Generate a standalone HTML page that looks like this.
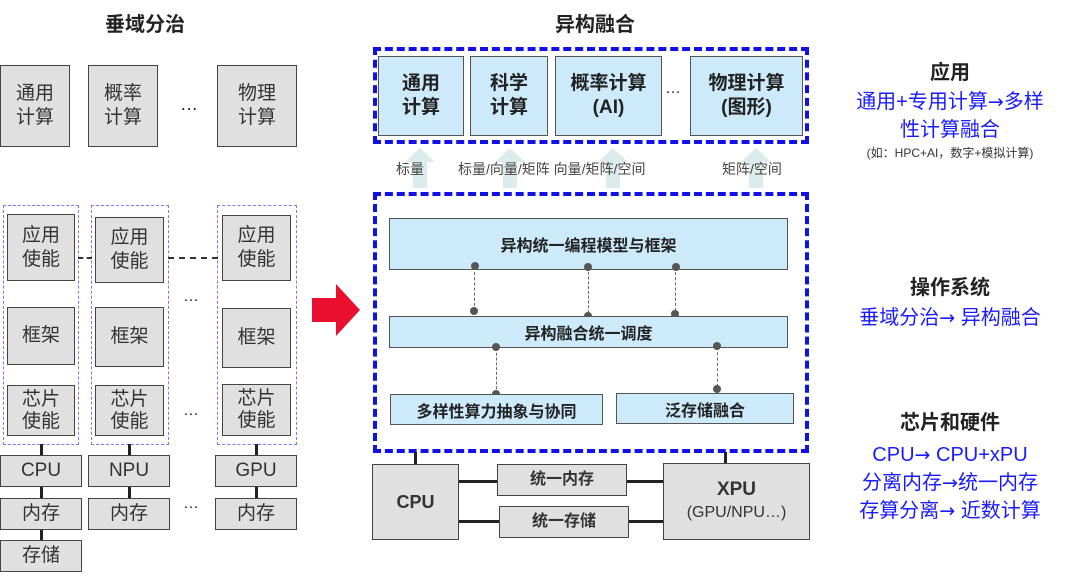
<!DOCTYPE html>
<html><head><meta charset="utf-8">
<style>
body{margin:0;width:1080px;height:581px;background:#fff;position:relative;overflow:hidden;font-family:"Liberation Sans","Noto Sans CJK SC",sans-serif;color:#222}
.a{position:absolute}
.g{position:absolute;background:#e0e0e0;border:1.5px solid #444;box-sizing:border-box;display:flex;align-items:center;justify-content:center;text-align:center;font-size:19px;line-height:24px;color:#333}
.b{position:absolute;background:#cdeafb;border:1.5px solid #555;box-sizing:border-box;display:flex;align-items:center;justify-content:center;text-align:center;font-weight:bold;color:#222}
.dg{position:absolute;border:1.5px dashed #7777ff;box-sizing:border-box}
.db{position:absolute;border:4px dashed #1010e8;box-sizing:border-box}
.t{position:absolute;text-align:center;white-space:nowrap}
.vl{position:absolute;width:3px;background:#222}
.hl{position:absolute;height:3px;background:#222}
.dv{position:absolute;border-left:1.5px dashed #666;width:0}
.dot{position:absolute;width:8px;height:8px;border-radius:50%;background:#555}
.bl{color:#1a1aff;font-size:20px;line-height:28px}
.hd{font-weight:bold;font-size:20px;color:#222}
.ar{font-family:"DejaVu Sans",sans-serif;font-size:19px}
</style></head><body>
<!-- Left -->
<div class="t hd" style="left:60px;top:8px;width:170px">垂域分治</div>
<div class="g" style="left:0;top:65px;width:70px;height:82px">通用<br>计算</div>
<div class="g" style="left:88px;top:65px;width:70px;height:82px">概率<br>计算</div>
<div class="t" style="left:180px;top:94px;font-size:18px">…</div>
<div class="g" style="left:217px;top:65px;width:80px;height:82px">物理<br>计算</div>

<div class="dg" style="left:3px;top:205px;width:76px;height:240px"></div>
<div class="dg" style="left:91px;top:205px;width:78px;height:240px"></div>
<div class="dg" style="left:217px;top:205px;width:80px;height:240px"></div>
<div class="a" style="left:78px;top:257px;width:14px;border-top:2px dashed #333"></div>
<div class="a" style="left:168px;top:257px;width:50px;border-top:2px dashed #333"></div>
<div class="g" style="left:7px;top:214px;width:68px;height:67px">应用<br>使能</div>
<div class="g" style="left:95px;top:217px;width:69px;height:66px">应用<br>使能</div>
<div class="g" style="left:222px;top:215px;width:69px;height:66px">应用<br>使能</div>
<div class="g" style="left:7px;top:307px;width:68px;height:58px">框架</div>
<div class="g" style="left:95px;top:307px;width:69px;height:60px">框架</div>
<div class="g" style="left:222px;top:308px;width:69px;height:60px">框架</div>
<div class="g" style="left:7px;top:385px;width:68px;height:51px;line-height:22px">芯片<br>使能</div>
<div class="g" style="left:95px;top:385px;width:69px;height:51px;line-height:22px">芯片<br>使能</div>
<div class="g" style="left:222px;top:384px;width:69px;height:52px;line-height:22px">芯片<br>使能</div>
<div class="t" style="left:183px;top:288px;font-size:16px">…</div>
<div class="t" style="left:183px;top:402px;font-size:16px">…</div>
<div class="t" style="left:183px;top:495px;font-size:16px">…</div>
<div class="vl" style="left:40px;top:444px;height:70px"></div>
<div class="vl" style="left:40px;top:520px;height:24px"></div>
<div class="vl" style="left:128px;top:444px;height:60px"></div>
<div class="vl" style="left:255px;top:444px;height:60px"></div>
<div class="g" style="left:0;top:455px;width:82px;height:32px">CPU</div>
<div class="g" style="left:88px;top:455px;width:82px;height:32px">NPU</div>
<div class="g" style="left:215px;top:455px;width:82px;height:32px">GPU</div>
<div class="g" style="left:0;top:498px;width:82px;height:32px">内存</div>
<div class="g" style="left:88px;top:498px;width:82px;height:32px">内存</div>
<div class="g" style="left:215px;top:498px;width:82px;height:32px">内存</div>
<div class="g" style="left:0;top:540px;width:82px;height:32px">存储</div>

<!-- red arrow -->
<svg class="a" style="left:310px;top:282px" width="52" height="56"><polygon points="2,16 26,16 26,2 50,28 26,54 26,40 2,40" fill="#e8102e"/></svg>

<!-- Middle -->
<div class="t hd" style="left:510px;top:8px;width:170px">异构融合</div>
<svg class="a" style="left:395px;top:148px" width="400" height="42">
<g fill="#dcecec"><polygon points="25,0 40,14 32,14 32,40 18,40 18,14 10,14"/><polygon points="115,0 130,14 122,14 122,40 108,40 108,14 100,14"/><polygon points="218,0 233,14 225,14 225,40 211,40 211,14 203,14"/><polygon points="361,0 376,14 368,14 368,40 354,40 354,14 346,14"/></g></svg>
<div class="db" style="left:373px;top:47px;width:436px;height:97px"></div>
<div class="b" style="left:378px;top:56px;width:86px;height:80px;font-size:19px;line-height:24px">通用<br>计算</div>
<div class="b" style="left:470px;top:56px;width:78px;height:80px;font-size:19px;line-height:24px">科学<br>计算</div>
<div class="b" style="left:555px;top:56px;width:107px;height:80px;font-size:19px;line-height:24px">概率计算<br>(AI)</div>
<div class="t" style="left:665px;top:80px;font-size:16px">…</div>
<div class="b" style="left:690px;top:56px;width:113px;height:80px;font-size:19px;line-height:24px">物理计算<br>(图形)</div>
<div class="t" style="left:396px;top:159px;font-size:14px;color:#444">标量</div>
<div class="t" style="left:458px;top:159px;font-size:14px;color:#444">标量/向量/矩阵 向量/矩阵/空间</div>
<div class="t" style="left:722px;top:159px;font-size:14px;color:#444">矩阵/空间</div>

<div class="db" style="left:373px;top:192px;width:436px;height:261px"></div>
<div class="b" style="left:389px;top:218px;width:399px;height:52px;font-size:16px">异构统一编程模型与框架</div>
<div class="dv" style="left:474px;top:267px;height:44px"></div>
<div class="dv" style="left:588px;top:267px;height:46px"></div>
<div class="dv" style="left:675px;top:267px;height:44px"></div>
<div class="dot" style="left:471px;top:262px"></div>
<div class="dot" style="left:470px;top:307px"></div>
<div class="dot" style="left:584px;top:263px"></div>
<div class="dot" style="left:584px;top:312px"></div>
<div class="dot" style="left:672px;top:263px"></div>
<div class="dot" style="left:671px;top:310px"></div>
<div class="b" style="left:389px;top:316px;width:399px;height:32px;font-size:16px">异构融合统一调度</div>
<div class="dv" style="left:496px;top:348px;height:46px"></div>
<div class="dv" style="left:717px;top:347px;height:40px"></div>
<div class="dot" style="left:492px;top:343px"></div>
<div class="dot" style="left:492px;top:390px"></div>
<div class="dot" style="left:713px;top:342px"></div>
<div class="dot" style="left:713px;top:385px"></div>
<div class="b" style="left:390px;top:394px;width:213px;height:31px;font-size:16px">多样性算力抽象与协同</div>
<div class="b" style="left:616px;top:393px;width:178px;height:31px;font-size:16px">泛存储融合</div>

<div class="vl" style="left:414px;top:452px;height:13px"></div>
<div class="vl" style="left:724px;top:452px;height:12px"></div>
<div class="hl" style="left:458px;top:480px;width:206px"></div>
<div class="hl" style="left:458px;top:520px;width:206px"></div>
<div class="g" style="left:372px;top:464px;width:87px;height:76px;font-weight:bold;font-size:18px">CPU</div>
<div class="g" style="left:497px;top:464px;width:130px;height:32px;font-weight:bold;font-size:16px">统一内存</div>
<div class="g" style="left:499px;top:506px;width:130px;height:32px;font-weight:bold;font-size:16px">统一存储</div>
<div class="g" style="left:663px;top:463px;width:147px;height:77px;font-size:16px;line-height:22px"><div><b style="font-size:19px">XPU</b><br>(GPU/NPU…)</div></div>

<!-- Right -->
<div class="t hd" style="left:850px;top:56px;width:200px">应用</div>
<div class="t bl" style="left:830px;top:88px;width:240px">通用+专用计算<span class="ar">→</span>多样<br>性计算融合</div>
<div class="t" style="left:830px;top:144px;width:240px;font-size:12px;color:#333">(如：HPC+AI，数字+模拟计算)</div>
<div class="t hd" style="left:850px;top:271px;width:200px">操作系统</div>
<div class="t bl" style="left:830px;top:304px;width:240px">垂域分治<span class="ar">→</span> 异构融合</div>
<div class="t hd" style="left:850px;top:406px;width:200px">芯片和硬件</div>
<div class="t bl" style="left:830px;top:441px;width:240px">CPU<span class="ar">→</span> CPU+xPU<br>分离内存<span class="ar">→</span>统一内存<br>存算分离<span class="ar">→</span> 近数计算</div>
</body></html>
